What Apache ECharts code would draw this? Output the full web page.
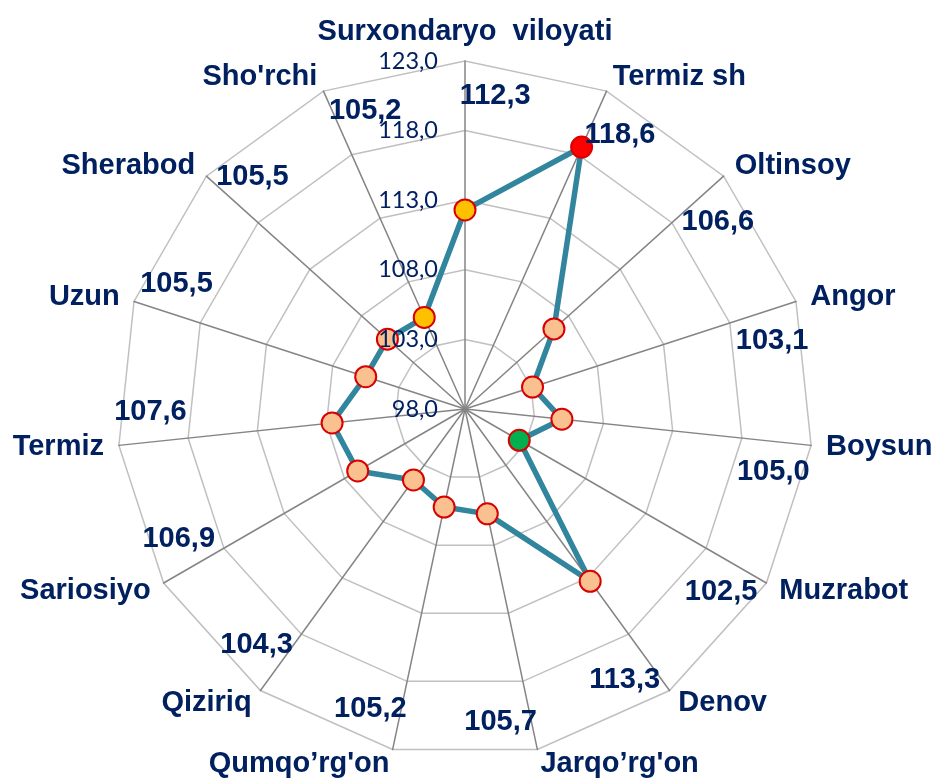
<!DOCTYPE html>
<html><head><meta charset="utf-8">
<script src="https://cdn.jsdelivr.net/npm/echarts@6/dist/echarts.min.js"></script>
<style>html,body{margin:0;padding:0;background:#fff}#c{width:936px;height:780px}</style>
</head><body><div id="c"></div>
<script>
// ---- data (clockwise from top) ----
const categories = ["Surxondaryo  viloyati", "Termiz sh", "Oltinsoy", "Angor", "Boysun", "Muzrabot", "Denov", "Jarqo’rg'on", "Qumqo’rg'on", "Qiziriq", "Sariosiyo", "Termiz", "Uzun", "Sherabod", "Sho'rchi"];
const values = [112.3, 118.6, 106.6, 103.1, 105.0, 102.5, 113.3, 105.7, 105.2, 104.3, 106.9, 107.6, 105.5, 105.5, 105.2];
const markerKinds = ["region", "max", "normal", "normal", "normal", "min", "normal", "normal", "normal", "normal", "normal", "normal", "normal", "normal", "region"];
const scaleMin = 98;
const scaleMax = 123;
const scaleStep = 5;

// ---- styles ----
const NAVY = '#002060';
const FONT = 'Liberation Sans, Arial, sans-serif';
const fills = { region: '#FFC000', max: '#FF0000', min: '#00B050', normal: '#FAC090' };
const CENTER = [465, 409];
const RADIUS = 348;
const LABEL_R = 120.6;      // radial position of value labels (in scale units)
const LABEL_SHIFT = 5.5;    // degrees clockwise from each spoke
const fmt = v => v.toFixed(1).replace('.', ',');
const n = categories.length;
const radarOrder = [0].concat(categories.map((_, i) => i).slice(1).reverse());

const chart = echarts.init(document.getElementById('c'));
chart.setOption({
  animation: false,
  backgroundColor: '#fff',
  radar: {
    center: CENTER, radius: RADIUS, startAngle: 90, shape: 'polygon', splitNumber: 5,
    indicator: radarOrder.map(i => ({ name: categories[i], min: scaleMin, max: scaleMax })),
    axisName: { color: NAVY, fontSize: 29, fontWeight: 'bold', fontFamily: FONT },
    nameGap: 15,
    axisLine: { lineStyle: { color: '#858585', width: 1.5 } },
    splitLine: { lineStyle: { color: '#c0c0c0', width: 1.5 } },
    splitArea: { show: false },
    axisTick: { show: false },
    axisLabel: { show: false }
  },
  polar: [{ center: CENTER, radius: RADIUS }, { center: CENTER, radius: RADIUS }],
  angleAxis: [
    { polarIndex: 0, type: 'category', data: categories, boundaryGap: false, startAngle: 90, clockwise: true, show: false },
    { polarIndex: 1, type: 'value', min: 0, max: 360, startAngle: 90, clockwise: true, show: false }
  ],
  radiusAxis: [
    { polarIndex: 0, type: 'value', min: scaleMin, max: scaleMax, interval: scaleStep, z: 10,
      axisLine: { show: false }, axisTick: { show: false }, splitLine: { show: false },
      axisLabel: { formatter: fmt, color: NAVY, fontFamily: 'Lato', fontSize: 23.5, margin: 27 } },
    { polarIndex: 1, type: 'value', min: scaleMin, max: scaleMax, show: false }
  ],
  series: [
    { type: 'radar', z: 2, symbol: 'none',
      lineStyle: { color: '#31859C', width: 5.5 },
      data: [{ value: radarOrder.map(i => values[i]) }] },
    { type: 'scatter', coordinateSystem: 'polar', polarIndex: 0, z: 3, symbolSize: 21,
      itemStyle: { borderColor: '#D80000', borderWidth: 2, opacity: 1 },
      data: values.map((v, i) => ({ value: [v, i], itemStyle: { color: fills[markerKinds[i]] } })) },
    { type: 'scatter', coordinateSystem: 'polar', polarIndex: 1, z: 4, symbolSize: 1, silent: true,
      itemStyle: { color: 'rgba(255,255,255,0)', opacity: 1 },
      label: { show: true, position: 'inside', color: NAVY, opacity: 1, fontSize: 29, fontWeight: 'bold', fontFamily: FONT },
      data: values.map((v, i) => ({ value: [LABEL_R, i * 360 / n + LABEL_SHIFT], label: { formatter: fmt(v) } })) }
  ]
});
</script></body></html>
